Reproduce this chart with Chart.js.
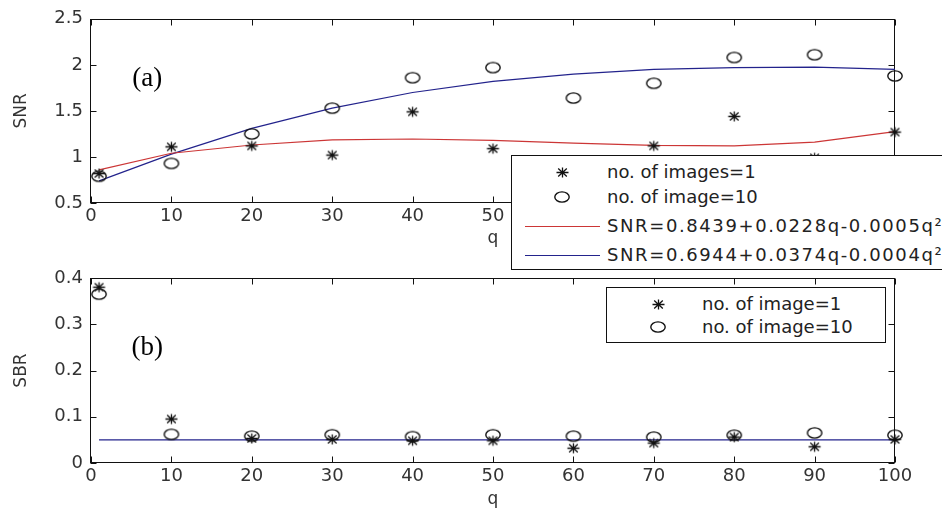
<!DOCTYPE html>
<html>
<head>
<meta charset="utf-8">
<title>SNR and SBR versus q</title>
<script src="https://cdn.jsdelivr.net/npm/chart.js@4.4.1/dist/chart.umd.min.js"></script>
<style>
  html, body { margin: 0; padding: 0; background: #fff; width: 942px; height: 511px; overflow: hidden; }
  #page { position: relative; width: 942px; height: 511px; }
  canvas.panel { position: absolute; left: 0; }
  #snrCanvas { top: 0; }
  #sbrCanvas { top: 250px; }
  .legend {
    position: absolute; box-sizing: border-box; background: #fff; border: 1px solid #111;
    font-family: "DejaVu Sans", sans-serif; font-size: 18px; color: #222; z-index: 2;
  }
  .legend .txt { position: absolute; height: 20px; line-height: 20px; white-space: nowrap; }
  .legend .txt.formula { letter-spacing: 1.6px; }
  .legend .swatch { position: absolute; height: 0; }
  .legend canvas { position: absolute; }
</style>
</head>
<body>
<div id="page">
  <canvas id="snrCanvas" class="panel" width="942" height="250"></canvas>
  <canvas id="sbrCanvas" class="panel" width="942" height="261"></canvas>
  <div id="snrLegend" class="legend"></div>
  <div id="sbrLegend" class="legend"></div>
</div>
<script>
// ---- data ----
const qValues       = [1, 10, 20, 30, 40, 50, 60, 70, 80, 90, 100];
const qTicks        = [0, 10, 20, 30, 40, 50, 60, 70, 80, 90, 100];
const snrTicks      = [0.5, 1, 1.5, 2, 2.5];
const sbrTicks      = [0, 0.1, 0.2, 0.3, 0.4];

// (a) SNR
const snrOneImage   = [0.82, 1.11, 1.12, 1.02, 1.49, 1.09, 0.90, 1.12, 1.44, 0.99, 1.27];
const snrTenImages  = [0.79, 0.93, 1.25, 1.53, 1.86, 1.97, 1.64, 1.80, 2.08, 2.11, 1.88];
const snrFitOne     = [0.86, 1.04, 1.13, 1.185, 1.195, 1.18, 1.15, 1.125, 1.12, 1.16, 1.275];
const snrFitTen     = [0.74, 1.03, 1.31, 1.53, 1.70, 1.82, 1.90, 1.95, 1.97, 1.975, 1.95];

// (b) SBR
const sbrOneImage   = [0.38, 0.095, 0.053, 0.051, 0.048, 0.048, 0.032, 0.043, 0.056, 0.035, 0.051];
const sbrTenImages  = [0.365, 0.062, 0.058, 0.061, 0.057, 0.061, 0.058, 0.056, 0.06, 0.065, 0.06];
const sbrLevel      = [0.05, 0.05, 0.05, 0.05, 0.05, 0.05, 0.05, 0.05, 0.05, 0.05, 0.05];

const snrLabels = ['no. of images=1', 'no. of image=10',
                   'SNR=0.8439+0.0228q-0.0005q²', 'SNR=0.6944+0.0374q-0.0004q²'];
const sbrLabels = ['no. of image=1', 'no. of image=10'];

// ---- markers ----
function starMarker() {
  const c = document.createElement('canvas');
  c.width = 15; c.height = 13;
  const g = c.getContext('2d');
  g.strokeStyle = '#111'; g.lineWidth = 1.3;
  const cx = 7.5, cy = 6.5;
  g.beginPath();
  g.moveTo(cx - 6, cy); g.lineTo(cx + 6, cy);
  g.moveTo(cx, cy - 5); g.lineTo(cx, cy + 5);
  g.moveTo(cx - 4.3, cy - 4); g.lineTo(cx + 4.3, cy + 4);
  g.moveTo(cx - 4.3, cy + 4); g.lineTo(cx + 4.3, cy - 4);
  g.stroke();
  return c;
}
function ringMarker() {
  const c = document.createElement('canvas');
  c.width = 18; c.height = 14;
  const g = c.getContext('2d');
  g.strokeStyle = '#111'; g.lineWidth = 1.4;
  g.beginPath();
  g.ellipse(9, 7, 7.2, 5.1, 0, 0, Math.PI * 2);
  g.stroke();
  return c;
}

const RED = '#cc3636';
const NAVY = '#23238c';

function points(ys) { return qValues.map((q, i) => ({ x: q, y: ys[i] })); }

function markerSet(label, ys, kind) {
  return {
    label, data: points(ys), showLine: false, clip: false,
    pointStyle: kind === 'star' ? starMarker() : ringMarker(),
    pointRadius: 5, legendKind: kind
  };
}
function lineSet(label, ys, color, inLegend) {
  return {
    label, data: points(ys), showLine: true, clip: false, tension: 0,
    borderColor: color, borderWidth: 1.2, pointRadius: 0,
    legendKind: inLegend ? 'line' : null
  };
}

// ---- axes box, inward ticks, panel tag ----
const panelFrame = {
  id: 'panelFrame',
  beforeDatasetsDraw(chart) {
    const { ctx, chartArea: a, scales: { x, y } } = chart;
    const L = Math.round(a.left) - 0.5, R = Math.round(a.right) - 0.5;
    const T = Math.round(a.top) + 0.5, B = Math.round(a.bottom) - 0.5;
    ctx.save();
    ctx.strokeStyle = '#111';
    ctx.lineWidth = 1;
    ctx.strokeRect(L, T, R - L, B - T);
    ctx.beginPath();
    x.ticks.forEach(t => {
      const px = Math.round(x.getPixelForValue(t.value)) + 0.5;
      ctx.moveTo(px, B); ctx.lineTo(px, B - 6);
      ctx.moveTo(px, T); ctx.lineTo(px, T + 6);
    });
    y.ticks.forEach(t => {
      const py = Math.round(y.getPixelForValue(t.value)) + 0.5;
      ctx.moveTo(L, py); ctx.lineTo(L + 6, py);
      ctx.moveTo(R, py); ctx.lineTo(R - 6, py);
    });
    ctx.stroke();
    ctx.restore();
  },
  afterDatasetsDraw(chart, args, opts) {
    if (!opts || !opts.tag) return;
    const { ctx, scales: { x, y } } = chart;
    ctx.save();
    ctx.font = '27px "Liberation Serif", serif';
    ctx.fillStyle = '#000';
    ctx.textAlign = 'center';
    ctx.textBaseline = 'middle';
    ctx.fillText(opts.tag.text, x.getPixelForValue(opts.tag.q), y.getPixelForValue(opts.tag.v));
    ctx.restore();
  }
};

Chart.defaults.font.family = '"DejaVu Sans", sans-serif';

function makePanel(canvasId, datasets, yTicks, yTitle, tag, padTop, xHeight) {
  return new Chart(document.getElementById(canvasId), {
    type: 'scatter',
    data: { datasets },
    options: {
      responsive: false,
      animation: false,
      events: [],
      layout: { padding: { top: padTop, right: 47, bottom: 0, left: 0 } },
      plugins: {
        legend: { display: false },
        tooltip: { enabled: false },
        panelFrame: { tag }
      },
      scales: {
        x: {
          type: 'linear', min: qTicks[0], max: qTicks[qTicks.length - 1],
          afterBuildTicks: s => { s.ticks = qTicks.map(v => ({ value: v })); },
          afterFit: s => { s.height = xHeight; },
          grid: { display: false, drawTicks: false },
          border: { display: false },
          ticks: { font: { size: 18 }, color: '#333', padding: 3, maxRotation: 0, autoSkip: false,
                   callback: v => String(v) },
          title: { display: true, text: 'q', font: { size: 17 }, color: '#333',
                   padding: { top: 0, bottom: 1 } }
        },
        y: {
          type: 'linear', min: yTicks[0], max: yTicks[yTicks.length - 1],
          afterBuildTicks: s => { s.ticks = yTicks.map(v => ({ value: v })); },
          afterFit: s => { s.width = 91; },
          grid: { display: false, drawTicks: false },
          border: { display: false },
          ticks: { font: { size: 18 }, color: '#333', padding: 8, autoSkip: false,
                   callback: v => String(v) },
          title: { display: true, text: yTitle, font: { size: 17 }, color: '#333',
                   padding: { top: 11, bottom: 0 } }
        }
      }
    },
    plugins: [panelFrame]
  });
}

const snrChart = makePanel('snrCanvas', [
  markerSet(snrLabels[0], snrOneImage, 'star'),
  markerSet(snrLabels[1], snrTenImages, 'ring'),
  lineSet(snrLabels[2], snrFitOne, RED, true),
  lineSet(snrLabels[3], snrFitTen, NAVY, true)
], snrTicks, 'SNR', { text: '(a)', q: 7, v: 1.85 }, 17, 47);

const sbrChart = makePanel('sbrCanvas', [
  markerSet(sbrLabels[0], sbrOneImage, 'star'),
  markerSet(sbrLabels[1], sbrTenImages, 'ring'),
  lineSet('SBR level', sbrLevel, NAVY, false)
], sbrTicks, 'SBR', { text: '(b)', q: 7, v: 0.249 }, 28, 48);

// ---- legends built from the chart datasets ----
function buildLegend(chart, el, box) {
  el.style.left = box.left + 'px';
  el.style.top = box.top + 'px';
  el.style.width = box.width + 'px';
  el.style.height = box.height + 'px';
  const entries = chart.data.datasets.filter(d => d.legendKind);
  entries.forEach((d, i) => {
    const cy = box.rowY[i];
    if (d.legendKind === 'line') {
      const s = document.createElement('div');
      s.className = 'swatch';
      s.style.left = box.lineX[0] + 'px';
      s.style.width = (box.lineX[1] - box.lineX[0]) + 'px';
      s.style.top = (cy - 0.5) + 'px';
      s.style.borderTop = '1.2px solid ' + d.borderColor;
      el.appendChild(s);
    } else {
      const m = d.legendKind === 'star' ? starMarker() : ringMarker();
      m.style.left = (box.markerX - m.width / 2) + 'px';
      m.style.top = (cy - m.height / 2) + 'px';
      el.appendChild(m);
    }
    const t = document.createElement('span');
    t.className = 'txt' + (d.legendKind === 'line' ? ' formula' : '');
    t.textContent = d.label;
    t.style.left = box.textX + 'px';
    t.style.top = (cy - 10) + 'px';
    el.appendChild(t);
  });
}

buildLegend(snrChart, document.getElementById('snrLegend'),
  { left: 511, top: 155, width: 440, height: 115, rowY: [16, 41, 70, 99], markerX: 50, lineX: [13, 88], textX: 95 });
buildLegend(sbrChart, document.getElementById('sbrLegend'),
  { left: 606, top: 287, width: 280, height: 56, rowY: [16, 39], markerX: 51, lineX: [14, 89], textX: 95 });
</script>
</body>
</html>
